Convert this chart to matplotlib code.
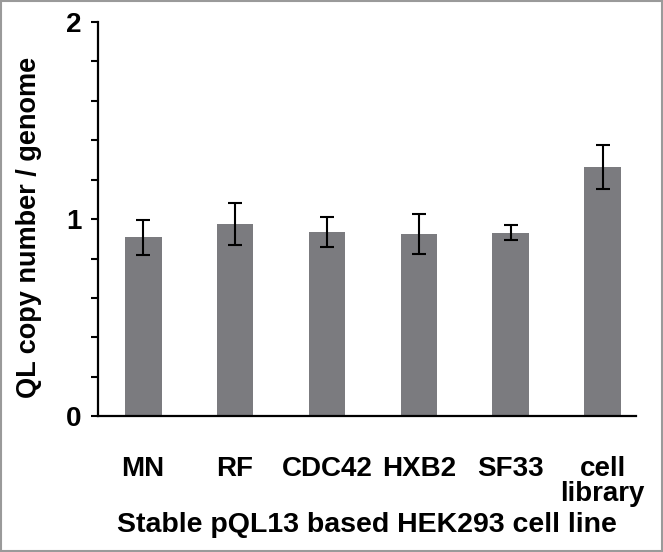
import matplotlib.pyplot as plt
from matplotlib.patches import Rectangle
from matplotlib.ticker import MultipleLocator

# values
cell_lines = ["MN", "RF", "CDC42", "HXB2", "SF33", "cell\nlibrary"]
copy_number = [0.907, 0.975, 0.936, 0.924, 0.932, 1.266]
errors = [0.088, 0.108, 0.075, 0.100, 0.038, 0.111]

plt.rcParams['font.family'] = ['Liberation Sans', 'DejaVu Sans']
plt.rcParams['font.weight'] = 'bold'

fig = plt.figure(figsize=(6.63, 5.52), dpi=100)
ax = fig.add_axes([0.148, 0.246, 0.811, 0.714])

x = range(len(cell_lines))
ax.bar(x, copy_number, width=0.4, color="#7b7b7f", zorder=2)
ax.errorbar(x, copy_number, yerr=errors, fmt="none", ecolor="black",
            elinewidth=1.5, capsize=4.8, capthick=1.5, zorder=3)

ax.set_xlim(-0.49, 5.36)
ax.set_ylim(0, 2)
ax.yaxis.set_minor_locator(MultipleLocator(0.2))
ax.set_yticks([0, 1, 2])
ax.set_yticklabels(["0", "1", "2"], fontsize=20, fontweight="bold")
ax.set_xticks(list(x))
ax.set_xticklabels(cell_lines, fontsize=20, fontweight="bold", va="top",
                   linespacing=0.95)

ax.tick_params(axis="y", which="both", direction="out", length=5, width=1.5, pad=7)
ax.tick_params(axis="x", length=0, pad=29)

for side in ["top", "right"]:
    ax.spines[side].set_visible(False)
for side in ["left", "bottom"]:
    ax.spines[side].set_linewidth(1.6)

ax.set_ylabel("QL copy number / genome", fontsize=19.5, fontweight="bold", labelpad=14)
ax.yaxis.set_label_coords(-0.105, 0.48)
ax.set_xlabel("Stable pQL13 based HEK293 cell line", fontsize=20.5,
              fontweight="bold", labelpad=3)

fig.patches.append(Rectangle((0.002, 0.002), 0.996, 0.996, transform=fig.transFigure,
                             fill=False, edgecolor="#9a9a9a", linewidth=1.5))

fig.savefig("out.png", dpi=100)
